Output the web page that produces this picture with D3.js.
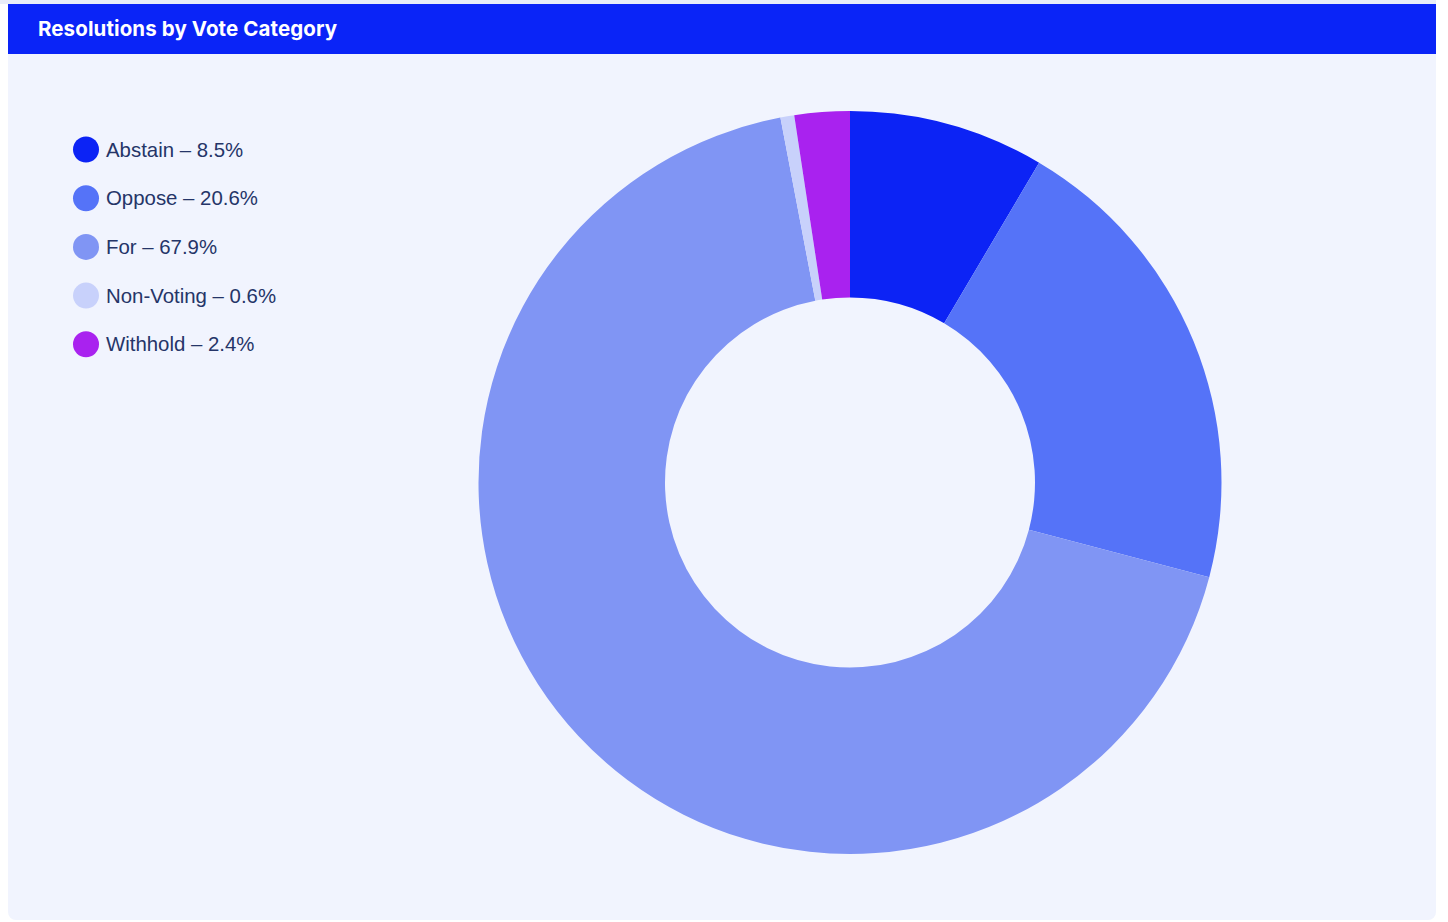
<!DOCTYPE html>
<html>
<head>
<meta charset="utf-8">
<script src="https://cdn.jsdelivr.net/npm/d3@7"></script>
<style>
  body { margin: 0; background: #ffffff; font-family: "Liberation Sans", Arial, sans-serif; }
  .topstrip { position: absolute; left: 0; top: 0; width: 1436px; height: 4px; background: #e9edf9; }
  .card { position: absolute; left: 8px; top: 4px; width: 1428px; height: 916px; background: #f1f4fe; border-radius: 0 0 8px 8px; overflow: hidden; }
  .header { height: 50px; background: #0a24f7; color: #fff; font-family: Inter, Lato, sans-serif; font-weight: 700; font-size: 20.5px; line-height: 50px; padding-left: 30px; letter-spacing: 0.1px; }
</style>
</head>
<body>
<div class="topstrip"></div>
<div class="card">
  <div class="header">Resolutions by Vote Category</div>
  <div class="chart"></div>
</div>
<script>
var categories = ["Abstain", "Oppose", "For", "Non-Voting", "Withhold"];
var values = [8.5, 20.6, 67.9, 0.6, 2.4];
var colors = ["#0c23f5", "#5573f8", "#8095f4", "#c8d1fb", "#a922ef"];

var width = 1428, height = 866;
var svg = d3.select(".chart").append("svg")
    .attr("width", width)
    .attr("height", height)
    .style("display", "block");

var data = categories.map(function(c, i) { return { name: c, value: values[i], color: colors[i] }; });

var pie = d3.pie().sort(null).value(function(d) { return d.value; });
var arc = d3.arc().innerRadius(185).outerRadius(371.5);

// donut centre, relative to chart area (card top + header)
var g = svg.append("g").attr("transform", "translate(842,428.5)");

g.selectAll("path")
    .data(pie(data))
    .enter().append("path")
    .attr("d", arc)
    .attr("fill", function(d) { return d.data.color; });

// legend
var legend = svg.append("g").attr("transform", "translate(78,95.5)");
var items = legend.selectAll("g")
    .data(data)
    .enter().append("g")
    .attr("transform", function(d, i) { return "translate(0," + (i * 48.7) + ")"; });

items.append("circle")
    .attr("r", 13)
    .attr("fill", function(d) { return d.color; });

items.append("text")
    .attr("x", 20)
    .attr("dy", "0.35em")
    .attr("fill", "#253568")
    .style("font-size", "20.4px")
    .text(function(d) { return d.name + " \u2013 " + d.value + "%"; });
</script>
</body>
</html>
